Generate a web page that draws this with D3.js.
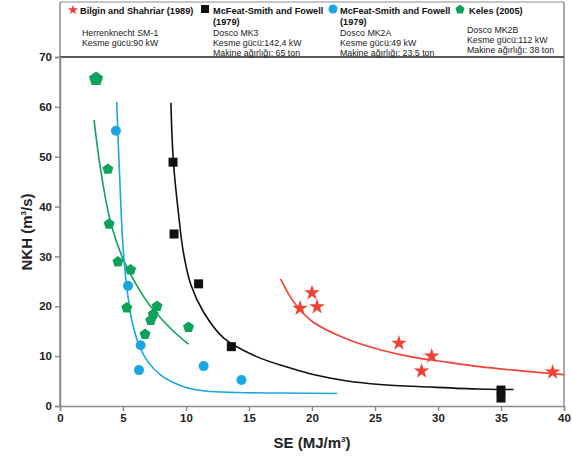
<!DOCTYPE html>
<html>
<head>
<meta charset="utf-8">
<script src="https://cdn.jsdelivr.net/npm/d3@7"></script>
<style>
  body { margin: 0; background: #fff; }
  svg { font-family: "Liberation Sans", Arial, sans-serif; }
</style>
</head>
<body>
<div id="chart"></div>
<script>
var width = 572,
    height = 462,
    margin = {left: 60, right: 7, top: 57, bottom: 56};

// measured points [SE, NKH]
var bilginPts = [[19.05, 19.6], [20.0, 22.7], [20.4, 19.9], [26.9, 12.6], [29.5, 10.0], [28.7, 7.0], [39.1, 6.8]];
var mk3Pts = [[8.97, 48.9], [9.05, 34.5], [11.0, 24.5], [13.6, 11.9], [35.0, 3.2], [35.0, 1.6]];
var mk2aPts = [[4.44, 55.2], [5.4, 24.1], [6.4, 12.2], [6.27, 7.2], [11.4, 8.0], [14.4, 5.2]];
var kelesPts = [[2.86, 65.6], [3.8, 47.5], [3.9, 36.5], [4.6, 28.9], [5.6, 27.3], [5.3, 19.7], [7.7, 20.0],
                [7.4, 18.4], [7.2, 17.2], [6.75, 14.4], [10.2, 15.8]];

// fitted curves
var bilginFit = [[17.5, 25.5], [18.3, 21.8], [19.05, 19.3], [20.1, 16.8], [22.8, 13.4], [25.4, 11.3], [28.0, 9.8],
                 [30.7, 8.8], [33.3, 7.9], [36.0, 7.2], [40.0, 6.3]];
var mk3Fit = [[8.8, 60.8], [9.0, 49.0], [9.4, 38.7], [9.8, 30.7], [10.4, 24.2], [11.4, 18.8], [13.0, 13.6],
              [15.6, 9.9], [18.3, 7.6], [20.1, 6.3], [22.8, 5.0], [25.4, 4.3], [29.4, 3.8], [33.3, 3.4], [36.0, 3.3]];
var mk2aFit = [[4.5, 61], [4.75, 45], [5.0, 32], [5.3, 23.8], [5.7, 17.2], [6.3, 12], [7.0, 8.8], [8.0, 6.2],
               [9.0, 4.7], [10.0, 3.7], [11.5, 3.0], [14.0, 2.7], [18.0, 2.6], [22.0, 2.5]];
var kelesFit = [[2.7, 57.4], [3.2, 47.8], [4.0, 37.0], [5.0, 29.5], [6.0, 24.6], [7.0, 20.6], [8.0, 17.6],
                [9.0, 15.0], [10.2, 12.4]];

var xTicks = [0, 5, 10, 15, 20, 25, 30, 35, 40];
var yTicks = [0, 10, 20, 30, 40, 50, 60, 70];

var legendItems = [
    {name: "Bilgin and Shahriar (1989)", lines: ["Herrenknecht SM-1", "Kesme gücü:90 kW"]},
    {name: "McFeat-Smith and Fowell", year: "(1979)", lines: ["Dosco MK3", "Kesme gücü:142,4 kW", "Makine ağırlığı: 65 ton"]},
    {name: "McFeat-Smith and Fowell", year: "(1979)", lines: ["Dosco MK2A", "Kesme gücü:49 kW", "Makine ağırlığı: 23.5 ton"]},
    {name: "Keles (2005)", lines: ["Dosco MK2B", "Kesme gücü:112 kW", "Makine ağırlığı: 38 ton"]}
];

var red = "#ef4136", black = "#111111", blue = "#1aa7df", green = "#0fa25b", axisGray = "#8c8c8c";

var svg = d3.select("#chart").append("svg").attr("width", width).attr("height", height);

var x = d3.scaleLinear().domain([0, 40]).range([margin.left, width - margin.right - 1]);
var y = d3.scaleLinear().domain([0, 70]).range([height - margin.bottom, margin.top]);

// frame
svg.append("line").attr("x1", x(0)).attr("x2", x(0)).attr("y1", 2).attr("y2", y(0))
    .attr("stroke", axisGray).attr("stroke-width", 1.5);
svg.append("line").attr("x1", x(40)).attr("x2", x(40)).attr("y1", 2).attr("y2", y(0))
    .attr("stroke", axisGray).attr("stroke-width", 1.5);
svg.append("line").attr("x1", x(0)).attr("x2", x(40)).attr("y1", 2).attr("y2", 2)
    .attr("stroke", axisGray).attr("stroke-width", 1);
svg.append("line").attr("x1", x(0)).attr("x2", x(40)).attr("y1", y(70)).attr("y2", y(70))
    .attr("stroke", "#222").attr("stroke-width", 1.3);

var xAxis = svg.append("g").attr("transform", "translate(0," + y(0) + ")")
    .call(d3.axisBottom(x).tickValues(xTicks).tickSize(5).tickPadding(3));
var yAxis = svg.append("g").attr("transform", "translate(" + x(0) + ",0)")
    .call(d3.axisLeft(y).tickValues(yTicks).tickSize(5).tickPadding(3));

[xAxis, yAxis].forEach(function(a) {
    a.select(".domain").attr("stroke", axisGray).attr("stroke-width", 1.5);
    a.selectAll(".tick line").attr("stroke", axisGray).attr("stroke-width", 1.5);
    a.selectAll(".tick text").attr("fill", "#222").style("font-size", "11.5px").style("font-weight", "bold")
        .style("font-family", "'Liberation Sans', Arial, sans-serif");
});

// axis titles
var xt = svg.append("text").attr("x", 312).attr("y", 448).attr("text-anchor", "middle")
    .style("font-size", "15px").style("font-weight", "bold").attr("fill", "#222");
xt.append("tspan").text("SE (MJ/m");
xt.append("tspan").text("3").attr("dy", -6).style("font-size", "8px");
xt.append("tspan").text(")").attr("dy", 6);

var yt = svg.append("text").attr("transform", "translate(32,232) rotate(-90)").attr("text-anchor", "middle")
    .style("font-size", "15px").style("font-weight", "bold").attr("fill", "#222");
yt.append("tspan").text("NKH (m");
yt.append("tspan").text("3").attr("dy", -6).style("font-size", "8px");
yt.append("tspan").text("/s)").attr("dy", 6);

// fit lines
var lineY = d3.line().x(function(d) { return x(d[0]); }).y(function(d) { return y(d[1]); })
    .curve(d3.curveCatmullRom.alpha(0.5));

var fits = [[kelesFit, green], [mk2aFit, blue], [mk3Fit, black], [bilginFit, red]];
fits.forEach(function(f) {
    svg.append("path").datum(f[0]).attr("d", lineY).attr("fill", "none")
        .attr("stroke", f[1]).attr("stroke-width", 1.6);
});

var pentagon = function(r) {
    var pts = d3.range(5).map(function(i) {
        var a = -Math.PI / 2 + i * 2 * Math.PI / 5;
        return [r * Math.cos(a), r * Math.sin(a)];
    });
    return "M" + pts.join("L") + "Z";
};

// markers
svg.append("g").selectAll("path").data(kelesPts).enter().append("path")
    .attr("transform", function(d) { return "translate(" + x(d[0]) + "," + y(d[1]) + ")"; })
    .attr("d", function(d, i) { return pentagon(i === 0 ? 7.5 : 5.8); })
    .attr("fill", green);

svg.append("g").selectAll("circle").data(mk2aPts).enter().append("circle")
    .attr("cx", function(d) { return x(d[0]); }).attr("cy", function(d) { return y(d[1]); })
    .attr("r", 5).attr("fill", blue);

svg.append("g").selectAll("rect").data(mk3Pts).enter().append("rect")
    .attr("x", function(d) { return x(d[0]) - 4.5; }).attr("y", function(d) { return y(d[1]) - 4.5; })
    .attr("width", 9).attr("height", 9).attr("fill", black);

svg.append("g").selectAll("path").data(bilginPts).enter().append("path")
    .attr("transform", function(d) { return "translate(" + x(d[0]) + "," + y(d[1]) + ")"; })
    .attr("d", d3.symbol().type(d3.symbolStar).size(75)).attr("fill", red);

// legend
var legendX = [80, 213, 340, 469];
var legendColors = [red, black, blue, green];
var lg = svg.append("g");

legendItems.forEach(function(item, i) {
    var lx = legendX[i], c = legendColors[i];
    if (i === 0) {
        lg.append("path").attr("transform", "translate(" + (lx - 7) + ",10)")
            .attr("d", d3.symbol().type(d3.symbolStar).size(32)).attr("fill", c);
    } else if (i === 1) {
        lg.append("rect").attr("x", lx - 12).attr("y", 5).attr("width", 8).attr("height", 8).attr("fill", c);
    } else if (i === 2) {
        lg.append("circle").attr("cx", lx - 7).attr("cy", 9).attr("r", 4.5).attr("fill", c);
    } else {
        lg.append("path").attr("transform", "translate(" + (lx - 9) + ",9.5)").attr("d", pentagon(4.8)).attr("fill", c);
    }
    lg.append("text").attr("x", lx).attr("y", 13.5).text(item.name)
        .style("font-size", "9.2px").style("font-weight", "bold").attr("fill", "#111");
    var startY = 35.5, step = 10.3;
    if (item.year) {
        lg.append("text").attr("x", lx).attr("y", 24.5).text(item.year)
            .style("font-size", "9.2px").style("font-weight", "bold").attr("fill", "#111");
    }
    if (i === 3) startY = 32.5;
    var offX = (i === 0) ? 2 : (i === 3 ? -2 : 0);
    item.lines.forEach(function(t, j) {
        lg.append("text").attr("x", lx + offX).attr("y", startY + j * step).text(t)
            .style("font-size", "8.8px").attr("fill", "#222");
    });
});
</script>
</body>
</html>
